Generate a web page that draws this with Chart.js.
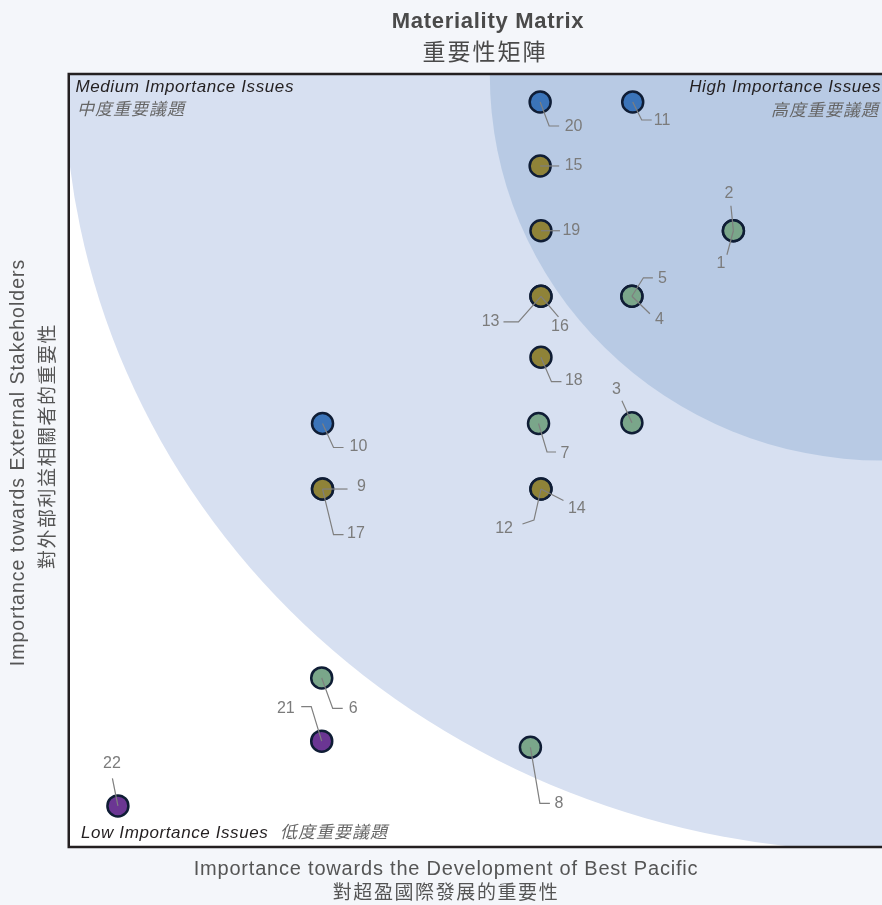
<!DOCTYPE html>
<html>
<head>
<meta charset="utf-8">
<title>Materiality Matrix</title>
<script src="https://cdn.jsdelivr.net/npm/chart.js@4.4.1/dist/chart.umd.min.js"></script>
<style>
    html, body { margin: 0; padding: 0; background: #f4f6fa; }
    #matrix { display: block; }
</style>
</head>
<body>
<canvas id="matrix" width="882" height="905"></canvas>
<script>
// Issue numbers and their scores (0 - 100 on both axes)
const issueNumbers = ['1', '2', '3', '4', '5', '6', '7', '8', '9', '10', '11',
    '12', '13', '14', '15', '16', '17', '18', '19', '20', '21', '22'];
const developmentImportance = [81.7, 81.7, 69.2, 69.2, 69.2, 31.0, 57.7, 56.7, 31.1, 31.1, 69.3,
    58.0, 58.0, 58.0, 57.9, 58.0, 31.1, 58.0, 58.0, 57.9, 31.0, 5.9];
const stakeholderImportance = [79.8, 79.8, 54.9, 71.3, 71.3, 21.8, 54.8, 12.8, 46.3, 54.8, 96.5,
    46.3, 71.3, 46.3, 88.2, 71.3, 46.3, 63.4, 79.8, 96.5, 13.6, 5.2];
const issueCategory = ['A', 'A', 'A', 'A', 'A', 'A', 'A', 'A', 'B', 'C', 'C',
    'B', 'B', 'B', 'B', 'B', 'B', 'B', 'B', 'C', 'D', 'D'];

const categories = ['A', 'B', 'C', 'D'];
const categoryColors = ['#7aa68a', '#8f8338', '#3b74b9', '#6b3693'];

// Importance zones: ellipses centred on the top right corner (radius in axis units)
const highZone = { rx: 48.3, ry: 50 };
const mediumZone = { rx: 100.7, ry: 100.7 };

// Leader lines (pixel offsets from the dot) and where the number sits
const labelLayout = {
    '1': { path: [[-6.5, 24]], text: [-12.5, 33], align: 'center' },
    '2': { path: [[-2.5, -25]], text: [-4.5, -37], align: 'center' },
    '3': { path: [[-10, -22]], text: [-15.5, -33], align: 'center' },
    '4': { path: [[18, 17.5]], text: [23, 23.5], align: 'left' },
    '5': { path: [[11.5, -18.5], [21, -18.5]], text: [26, -17.5], align: 'left' },
    '6': { path: [[11, 30.5], [21, 30.5]], text: [27, 30.5], align: 'left' },
    '7': { path: [[8.5, 28.5], [17.5, 28.5]], text: [22, 30], align: 'left' },
    '8': { path: [[9.5, 56], [19.5, 56]], text: [24, 56], align: 'left' },
    '9': { path: [[25, 0]], text: [34.5, -2], align: 'left' },
    '10': { path: [[11, 24], [21, 24]], text: [27, 23], align: 'left' },
    '11': { path: [[9, 18], [19, 18]], text: [21, 19], align: 'left' },
    '12': { path: [[-7, 31], [-18.5, 35]], text: [-28, 40], align: 'right' },
    '13': { path: [[-22.5, 25.5], [-37.5, 25.5]], text: [-41.5, 25.5], align: 'right' },
    '14': { path: [[22.5, 11.5]], text: [27, 19.5], align: 'left' },
    '15': { path: [[19, 0]], text: [24.5, 0], align: 'left' },
    '16': { path: [[17.5, 20.5]], text: [19, 30.5], align: 'center' },
    '17': { path: [[11, 45.5], [21, 45.5]], text: [24.5, 44.5], align: 'left' },
    '18': { path: [[10.5, 24.5], [20.5, 24.5]], text: [24, 23.5], align: 'left' },
    '19': { path: [[19, 0]], text: [21.5, 0], align: 'left' },
    '20': { path: [[9, 24], [19, 24]], text: [24.5, 25], align: 'left' },
    '21': { path: [[-10.5, -34.5], [-20.5, -34.5]], text: [-27, -32.5], align: 'right' },
    '22': { path: [[-5.5, -27.5]], text: [-6, -42], align: 'center' }
};

const sans = '"Liberation Sans", Arial, sans-serif';
const cjk = '"Noto Sans CJK TC", "Noto Sans CJK SC", sans-serif';

// one dataset per colour group
const datasets = categories.map((cat, c) => {
    const points = [];
    issueNumbers.forEach((num, i) => {
        if (issueCategory[i] == cat) {
            points.push({ x: developmentImportance[i], y: stakeholderImportance[i], id: num });
        }
    });
    return {
        label: 'Category ' + cat,
        data: points,
        backgroundColor: categoryColors[c],
        borderColor: '#0f1d35',
        borderWidth: 2.5,
        pointRadius: 10.5,
        pointHoverRadius: 10.5
    };
});

function drawText(ctx, text, x, y, font, color, align, baseline, spacing) {
    ctx.font = font;
    ctx.fillStyle = color;
    ctx.textAlign = align;
    ctx.textBaseline = baseline;
    ctx.letterSpacing = (spacing || 0) + 'px';
    ctx.fillText(text, x, y);
    ctx.letterSpacing = '0px';
}

// Background zones, frame and all the texts around the plot
const matrixPlugin = {
    id: 'matrix',
    beforeDatasetsDraw(chart) {
        const ctx = chart.ctx;
        const area = chart.chartArea;
        const xs = chart.scales.x;
        const ys = chart.scales.y;
        ctx.save();
        ctx.fillStyle = '#f4f6fa';
        ctx.fillRect(0, 0, chart.width, chart.height);
        ctx.fillStyle = '#ffffff';
        ctx.fillRect(area.left, area.top, area.right - area.left, area.bottom - area.top);

        ctx.beginPath();
        ctx.rect(area.left, area.top, area.right - area.left, area.bottom - area.top);
        ctx.clip();
        const cx = xs.getPixelForValue(100);
        const cy = ys.getPixelForValue(100);
        [[mediumZone, '#d7e0f1'], [highZone, '#b8cae4']].forEach(([zone, color]) => {
            ctx.beginPath();
            ctx.ellipse(cx, cy, cx - xs.getPixelForValue(100 - zone.rx),
                ys.getPixelForValue(100 - zone.ry) - cy, 0, 0, Math.PI * 2);
            ctx.fillStyle = color;
            ctx.fill();
        });
        ctx.restore();

        // frame (no right edge in view)
        ctx.save();
        ctx.strokeStyle = '#231f20';
        ctx.lineWidth = 2.5;
        ctx.beginPath();
        ctx.moveTo(chart.width, area.top - 1);
        ctx.lineTo(area.left - 1.25, area.top - 1);
        ctx.lineTo(area.left - 1.25, area.bottom + 1);
        ctx.lineTo(chart.width, area.bottom + 1);
        ctx.stroke();

        // zone names
        drawText(ctx, 'Medium Importance Issues', 75.5, 91.7, 'italic 17px ' + sans, '#231f20', 'left', 'alphabetic', 0.6);
        drawText(ctx, '中度重要議題', 77, 108.5, 'italic 17px ' + cjk, '#666666', 'left', 'middle', 1);
        drawText(ctx, 'High Importance Issues', 881, 92.3, 'italic 17px ' + sans, '#231f20', 'right', 'alphabetic', 0.6);
        drawText(ctx, '高度重要議題', 879, 110, 'italic 17px ' + cjk, '#666666', 'right', 'middle', 1);
        drawText(ctx, 'Low Importance Issues', 81, 838, 'italic 17px ' + sans, '#231f20', 'left', 'alphabetic', 0.6);
        drawText(ctx, '低度重要議題', 280, 831.5, 'italic 17px ' + cjk, '#666666', 'left', 'middle', 1);

        // chart title
        drawText(ctx, 'Materiality Matrix', 488, 27.5, 'bold 22px ' + sans, '#4a4a4a', 'center', 'alphabetic', 0.7);
        drawText(ctx, '重要性矩陣', 485, 51, '23px ' + cjk, '#4a4a4a', 'center', 'middle', 2);

        // x axis title
        drawText(ctx, 'Importance towards the Development of Best Pacific', 446, 875, '20px ' + sans, '#555555', 'center', 'alphabetic', 0.8);
        drawText(ctx, '對超盈國際發展的重要性', 446, 892, '19px ' + cjk, '#555555', 'center', 'middle', 1.6);

        // y axis title
        ctx.save();
        ctx.translate(19, 462.5);
        ctx.rotate(-Math.PI / 2);
        drawText(ctx, 'Importance towards External Stakeholders', 0, 0, '19.5px ' + sans, '#555555', 'center', 'middle', 1);
        ctx.restore();
        ctx.save();
        ctx.translate(47, 446);
        ctx.rotate(-Math.PI / 2);
        drawText(ctx, '對外部利益相關者的重要性', 0, 0, '19px ' + cjk, '#555555', 'center', 'middle', 1.5);
        ctx.restore();
        ctx.restore();
    },
    afterDatasetsDraw(chart) {
        const ctx = chart.ctx;
        ctx.save();
        chart.data.datasets.forEach((ds, d) => {
            chart.getDatasetMeta(d).data.forEach((pt, i) => {
                const layout = labelLayout[ds.data[i].id];
                if (!layout) return;
                ctx.beginPath();
                ctx.moveTo(pt.x, pt.y);
                layout.path.forEach(p => ctx.lineTo(pt.x + p[0], pt.y + p[1]));
                ctx.strokeStyle = '#7f7f7f';
                ctx.lineWidth = 1.2;
                ctx.stroke();
                drawText(ctx, ds.data[i].id, pt.x + layout.text[0], pt.y + layout.text[1],
                    '16px ' + sans, '#7b7b7b', layout.align, 'middle', 0);
            });
        });
        ctx.restore();
    }
};

const matrixChart = new Chart(document.getElementById('matrix'), {
    type: 'scatter',
    data: { datasets: datasets },
    options: {
        responsive: false,
        animation: false,
        layout: { autoPadding: false, padding: { left: 70, top: 75, right: 0, bottom: 59 } },
        scales: {
            x: { display: false, min: 0, max: 100 },
            y: { display: false, min: 0, max: 100 }
        },
        plugins: {
            legend: { display: false },
            tooltip: { enabled: false }
        }
    },
    plugins: [matrixPlugin]
});
</script>
</body>
</html>
